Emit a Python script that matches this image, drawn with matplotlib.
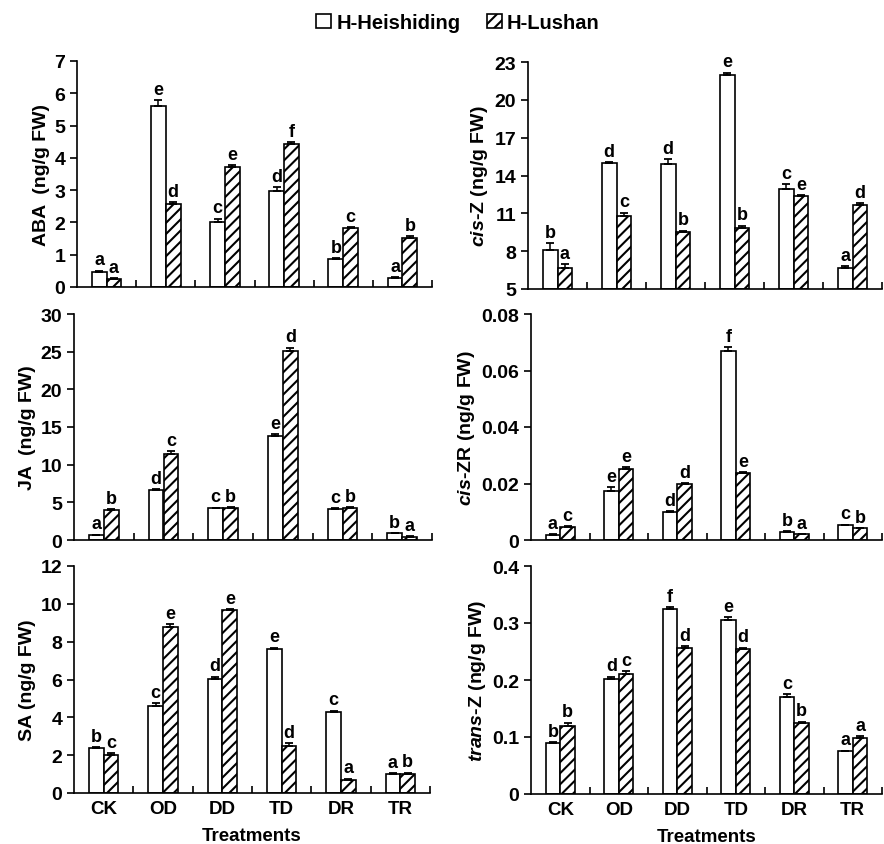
import matplotlib.pyplot as plt
import numpy as np
from matplotlib.patches import Patch
from matplotlib.ticker import FuncFormatter

plt.rcParams['font.family'] = ['Liberation Sans', 'DejaVu Sans']
plt.rcParams['font.weight'] = 'bold'
plt.rcParams['mathtext.fontset'] = 'custom'
plt.rcParams['mathtext.it'] = 'Liberation Sans:italic:bold'
plt.rcParams['mathtext.rm'] = 'Liberation Sans:bold'
plt.rcParams['hatch.linewidth'] = 1.5

treatments = ['CK', 'OD', 'DD', 'TD', 'DR', 'TR']
series = ['H-Heishiding', 'H-Lushan']

# ABA
aba_h = [0.48, 5.61, 2.02, 2.97, 0.87, 0.29]
aba_l = [0.26, 2.57, 3.73, 4.43, 1.82, 1.53]
aba_h_err = [0.03, 0.17, 0.10, 0.13, 0.02, 0.02]
aba_l_err = [0.02, 0.06, 0.05, 0.06, 0.03, 0.04]
aba_h_let = ['a', 'e', 'c', 'd', 'b', 'a']
aba_l_let = ['a', 'd', 'e', 'f', 'c', 'b']

# cis-Z
cisz_h = [8.1, 15.0, 14.92, 21.95, 12.94, 6.7]
cisz_l = [6.7, 10.76, 9.53, 9.87, 12.35, 11.63]
cisz_h_err = [0.55, 0.05, 0.35, 0.2, 0.35, 0.1]
cisz_l_err = [0.3, 0.3, 0.1, 0.15, 0.1, 0.2]
cisz_h_let = ['b', 'd', 'd', 'e', 'c', 'a']
cisz_l_let = ['a', 'c', 'b', 'b', 'e', 'd']

# JA
ja_h = [0.66, 6.69, 4.2, 13.82, 4.12, 0.89]
ja_l = [3.99, 11.48, 4.3, 25.12, 4.25, 0.44]
ja_h_err = [0.05, 0.1, 0.1, 0.2, 0.1, 0.05]
ja_l_err = [0.1, 0.3, 0.1, 0.4, 0.1, 0.05]
ja_h_let = ['a', 'd', 'c', 'e', 'c', 'b']
ja_l_let = ['b', 'c', 'b', 'd', 'b', 'a']

# cis-ZR
ciszr_h = [0.0019, 0.0173, 0.0099, 0.0668, 0.0030, 0.0053]
ciszr_l = [0.0047, 0.0251, 0.0200, 0.0236, 0.0021, 0.0041]
ciszr_h_err = [0.0001, 0.0013, 0.0004, 0.0015, 0.0002, 0.0001]
ciszr_l_err = [0.0002, 0.0006, 0.0002, 0.0003, 0.0001, 0.0001]
ciszr_h_let = ['a', 'e', 'd', 'f', 'b', 'c']
ciszr_l_let = ['c', 'e', 'd', 'e', 'a', 'b']

# SA
sa_h = [2.38, 4.59, 6.05, 7.59, 4.29, 1.0]
sa_l = [1.99, 8.79, 9.65, 2.47, 0.71, 1.02]
sa_h_err = [0.05, 0.15, 0.1, 0.1, 0.07, 0.06]
sa_l_err = [0.1, 0.15, 0.06, 0.15, 0.05, 0.05]
sa_h_let = ['b', 'c', 'd', 'e', 'c', 'a']
sa_l_let = ['c', 'e', 'e', 'd', 'a', 'b']

# trans-Z
transz_h = [0.089, 0.202, 0.325, 0.305, 0.170, 0.075]
transz_l = [0.120, 0.211, 0.257, 0.255, 0.125, 0.099]
transz_h_err = [0.002, 0.004, 0.003, 0.005, 0.005, 0.001]
transz_l_err = [0.005, 0.004, 0.003, 0.002, 0.002, 0.003]
transz_h_let = ['b', 'd', 'f', 'e', 'c', 'a']
transz_l_let = ['b', 'c', 'd', 'd', 'b', 'a']


def plot_panel(ax, h, l, h_err, l_err, h_let, l_let, ymin, ymax, step, ylabel, last_row):
    x = np.arange(len(treatments))
    w = 0.25
    zeros = np.zeros(len(x))
    ax.bar(x - w / 2, np.array(h) - ymin, w, bottom=ymin, color='white',
           edgecolor='black', linewidth=1.2, zorder=2)
    ax.bar(x + w / 2, np.array(l) - ymin, w, bottom=ymin, color='white',
           edgecolor='black', linewidth=1.2, hatch='///', zorder=2)
    ax.errorbar(x - w / 2, h, yerr=[zeros, h_err], fmt='none', ecolor='black',
                elinewidth=1.1, capsize=3, capthick=1.3, zorder=3)
    ax.errorbar(x + w / 2, l, yerr=[zeros, l_err], fmt='none', ecolor='black',
                elinewidth=1.1, capsize=3, capthick=1.3, zorder=3)
    off = (ymax - ymin) * 0.01
    for i in range(len(x)):
        ax.text(x[i] - w / 2, h[i] + h_err[i] + off, h_let[i], ha='center',
                va='bottom', fontsize=13, fontweight='bold')
        ax.text(x[i] + w / 2, l[i] + l_err[i] + off, l_let[i], ha='center',
                va='bottom', fontsize=13, fontweight='bold')

    ax.set_xlim(-0.5, len(x) - 0.5)
    ax.set_ylim(ymin, ymax)
    ax.set_yticks(np.arange(ymin, ymax + step / 2, step))
    ax.yaxis.set_major_formatter(FuncFormatter(lambda v, p: f'{round(v, 4):g}'))
    ax.spines['top'].set_visible(False)
    ax.spines['right'].set_visible(False)
    ax.spines['left'].set_linewidth(1.2)
    ax.spines['bottom'].set_linewidth(1.2)
    ax.tick_params(axis='y', direction='out', length=5, width=1.2, labelsize=14)
    ax.set_xticks(x)
    ax.set_xticks(x + 0.5, minor=True)
    ax.tick_params(axis='x', which='major', length=0, labelsize=13.5, pad=5)
    ax.tick_params(axis='x', which='minor', direction='in', length=5, width=1.2)
    if last_row:
        ax.set_xticklabels(treatments)
        ax.set_xlabel('Treatments', fontsize=13.5, fontweight='bold', labelpad=7)
    else:
        ax.set_xticklabels([])
    ax.set_ylabel(ylabel, fontsize=14, fontweight='bold', labelpad=3)


fig = plt.figure(figsize=(8.84, 8.45), dpi=100)
W, H = 884, 845


def add_ax(x0, x1, y0, y1):
    return fig.add_axes([x0 / W, 1 - y1 / H, (x1 - x0) / W, (y1 - y0) / H])


ax1 = add_ax(77, 432, 62, 288)
ax2 = add_ax(528, 882, 63, 290)
ax3 = add_ax(74, 432, 315, 541)
ax4 = add_ax(531, 882, 315, 541)
ax5 = add_ax(74, 430, 567, 794)
ax6 = add_ax(531, 882, 567, 795)

plot_panel(ax1, aba_h, aba_l, aba_h_err, aba_l_err, aba_h_let, aba_l_let,
           0, 7, 1, 'ABA  (ng/g FW)', False)
plot_panel(ax2, cisz_h, cisz_l, cisz_h_err, cisz_l_err, cisz_h_let, cisz_l_let,
           5, 23, 3, r'$\it{cis}$-Z (ng/g FW)', False)
plot_panel(ax3, ja_h, ja_l, ja_h_err, ja_l_err, ja_h_let, ja_l_let,
           0, 30, 5, 'JA  (ng/g FW)', False)
plot_panel(ax4, ciszr_h, ciszr_l, ciszr_h_err, ciszr_l_err, ciszr_h_let, ciszr_l_let,
           0, 0.08, 0.02, r'$\it{cis}$-ZR (ng/g FW)', False)
plot_panel(ax5, sa_h, sa_l, sa_h_err, sa_l_err, sa_h_let, sa_l_let,
           0, 12, 2, 'SA (ng/g FW)', True)
plot_panel(ax6, transz_h, transz_l, transz_h_err, transz_l_err, transz_h_let, transz_l_let,
           0, 0.4, 0.1, r'$\it{trans}$-Z (ng/g FW)', True)

handles = [Patch(facecolor='white', edgecolor='black', linewidth=1.2),
           Patch(facecolor='white', edgecolor='black', linewidth=1.2, hatch='///')]
fig.legend(handles, series, loc='upper center', bbox_to_anchor=(0.518, 1.005), ncol=2,
           frameon=False, fontsize=14.5, handlelength=0.75, handleheight=0.75,
           handletextpad=0.25, columnspacing=1.3)

fig.savefig('out.png', dpi=100)
